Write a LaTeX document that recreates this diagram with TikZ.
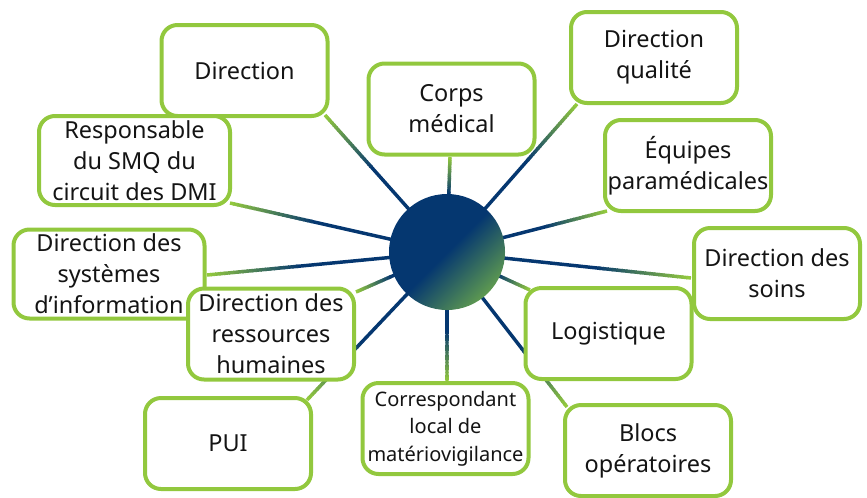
\documentclass[tikz,border=0pt]{standalone}
\usepackage{fontspec}
\setmainfont{Noto Sans}
\usetikzlibrary{calc}
\pgfdeclarelayer{bg}
\pgfsetlayers{bg,main}
\definecolor{navy}{HTML}{053770}
\definecolor{lgreen}{HTML}{92C83E}
\definecolor{hubgreen}{HTML}{5E9A50}
\definecolor{txt}{HTML}{141414}
\tikzset{
  box/.style={draw=lgreen, line width=3pt, fill=white, rounded corners=12pt,
    minimum width=124.5pt, minimum height=68.25pt, inner sep=2pt, align=center,
    text=txt, font=\fontsize{17.6}{23.25}\selectfont},
  widebox/.style={box, minimum width=143.25pt, minimum height=66.75pt},
  smallbox/.style={box, font=\fontsize{15}{20.6}\selectfont},
  conn/.style={line width=2.6pt},
  hub/.style={circle, minimum size=87pt, inner sep=0pt, top color=navy,
    bottom color=hubgreen, middle color=navy, shading angle=45},
}
\newcommand\gradline[3]{%
  \coordinate (E) at ($(#2.center)+(#3)$);
  \draw[conn, navy] (#1.center) -- ($(#1.center)!0.63!(E)$);
  \foreach \k in {0,...,19}{
    \pgfmathsetmacro\ta{0.62+0.019*\k}
    \pgfmathsetmacro\tb{min(1,\ta+0.024)}
    \pgfmathtruncatemacro\pc{(\k+1)*5}
    \draw[conn, draw=lgreen!\pc!navy] ($(#1.center)!\ta!(E)$) -- ($(#1.center)!\tb!(E)$);
  }%
}
\begin{document}
\begin{tikzpicture}[x=0.75pt, y=-0.75pt]
\useasboundingbox (0,0) rectangle (867,497);
\node[box] (dir) at (244.5,70.5) {Direction};
\node[widebox] (resp) at (134.5,160.5) {Responsable\\du SMQ du\\circuit des DMI};
\node[box] (corps) at (451.5,109) {Corps\\médical};
\node[box] (qual) at (654,57.5) {Direction\\qualité};
\node[box] (equip) at (688,165.5) {Équipes\\paramédicales};
\node[widebox] (sys) at (109,274) {Direction des\\systèmes\\d’information};
\node[box] (soins) at (777,273.5) {Direction des\\soins};
\node[box] (drh) at (271,334) {Direction des\\ressources\\humaines};
\node[box] (log) at (608.5,333.5) {Logistique};
\node[box] (pui) at (228,443.5) {PUI};
\node[smallbox] (corr) at (445.5,428.5) {Correspondant\\local de\\matériovigilance};
\node[box] (blocs) at (648,450.5) {Blocs\\opératoires};
\node[hub] (c) at (447,252) {};
\begin{pgfonlayer}{bg}
\gradline{c}{dir}{80.5,44.5}
\gradline{c}{resp}{95.5,42.5}
\gradline{c}{corps}{-1.5,48}
\gradline{c}{qual}{-77,46.5}
\gradline{c}{equip}{-81,45.5}
\gradline{c}{sys}{98,1}
\gradline{c}{soins}{-86,4.5}
\gradline{c}{log}{-78.5,-43.5}
\gradline{c}{blocs}{-81,-43.5}
\gradline{c}{corr}{1.5,-46.5}
\gradline{c}{drh}{85,-42}
\gradline{c}{pui}{79,-43.5}
\end{pgfonlayer}
\end{tikzpicture}
\end{document}
